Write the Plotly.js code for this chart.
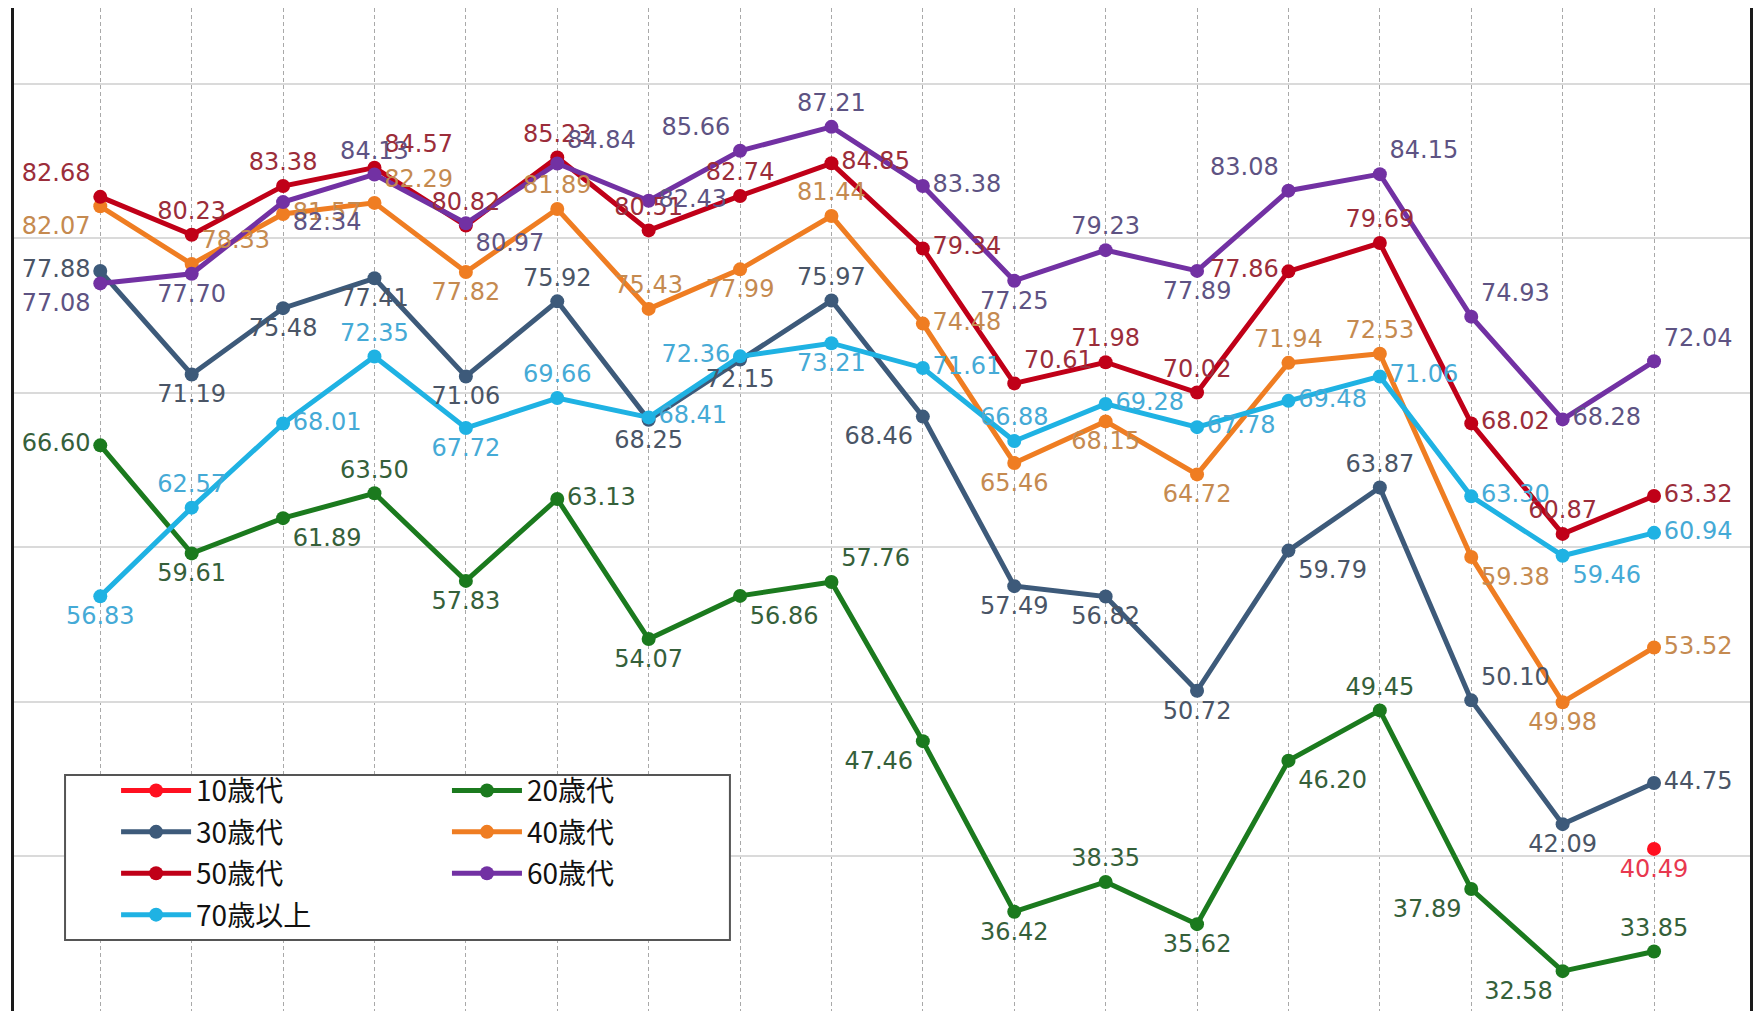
<!DOCTYPE html>
<html>
<head>
<meta charset="utf-8">
<script src="https://cdn.plot.ly/plotly-3.0.1.min.js"></script>
<style>
  html, body { margin: 0; padding: 0; background: #ffffff; }
  #chart { width: 1753px; height: 1011px; }
</style>
</head>
<body>
<div id="chart"></div>
<script>
// ---- data ----
const periods = [0, 1, 2, 3, 4, 5, 6, 7, 8, 9, 10, 11, 12, 13, 14, 15, 16, 17];
const seriesNames = ['10歳代', '20歳代', '30歳代', '40歳代', '50歳代', '60歳代', '70歳以上'];

const age10 = [null, null, null, null, null, null, null, null, null, null, null, null, null, null, null, null, null, 40.49];
const age20 = [66.60, 59.61, 61.89, 63.50, 57.83, 63.13, 54.07, 56.86, 57.76, 47.46, 36.42, 38.35, 35.62, 46.20, 49.45, 37.89, 32.58, 33.85];
const age30 = [77.88, 71.19, 75.48, 77.41, 71.06, 75.92, 68.25, 72.15, 75.97, 68.46, 57.49, 56.82, 50.72, 59.79, 63.87, 50.10, 42.09, 44.75];
const age40 = [82.07, 78.33, 81.57, 82.29, 77.82, 81.89, 75.43, 77.99, 81.44, 74.48, 65.46, 68.15, 64.72, 71.94, 72.53, 59.38, 49.98, 53.52];
const age50 = [82.68, 80.23, 83.38, 84.57, 80.82, 85.23, 80.51, 82.74, 84.85, 79.34, 70.61, 71.98, 70.02, 77.86, 79.69, 68.02, 60.87, 63.32];
const age60 = [77.08, 77.70, 82.34, 84.13, 80.97, 84.84, 82.43, 85.66, 87.21, 83.38, 77.25, 79.23, 77.89, 83.08, 84.15, 74.93, 68.28, 72.04];
const age70 = [56.83, 62.57, 68.01, 72.35, 67.72, 69.66, 68.41, 72.36, 73.21, 71.61, 66.88, 69.28, 67.78, 69.48, 71.06, 63.30, 59.46, 60.94];

// ---- label placement (style, kept apart from the data) ----
const P = {tc: 'top center', bc: 'bottom center', ml: 'middle left', mr: 'middle right',
           tl: 'top left', tr: 'top right', bl: 'bottom left', br: 'bottom right'};
const pos10 = ['bc','bc','bc','bc','bc','bc','bc','bc','bc','bc','bc','bc','bc','bc','bc','bc','bc','bc'];
const pos20 = ['ml','bc','br','tc','bc','mr','bc','br','tr','bl','bc','tc','bc','br','tc','bl','bl','tc'];
const pos30 = ['ml','bc','bc','bc','bc','tc','bc','bc','tc','bl','bc','bc','bc','br','tc','tr','bc','mr'];
const pos40 = ['bl','tr','mr','tr','bc','tc','tc','bc','tc','mr','bc','bc','bc','tc','tc','br','bc','mr'];
const pos50 = ['tl','tc','tc','tr','tc','tc','tc','tc','mr','mr','tr','tc','tc','ml','tc','mr','tc','mr'];
const pos60 = ['bl','bc','br','tc','br','tr','mr','tl','tc','mr','bc','tc','bc','tl','tr','tr','mr','tr'];
const pos70 = ['bc','tc','mr','tc','bc','tc','mr','ml','bc','mr','tc','mr','mr','mr','mr','mr','br','mr'];

const lineColors  = ['#ff1020', '#1b7a1e', '#3d5a7a', '#ef7d22', '#c00018', '#7231a3', '#1fb2e3'];
const labelColors = ['#e8384f', '#35603a', '#4a5566', '#c58a50', '#9b2d3a', '#5e5383', '#45aad6'];
const legendOf    = ['legend', 'legend2', 'legend', 'legend2', 'legend', 'legend2', 'legend'];

const values = [age10, age20, age30, age40, age50, age60, age70];
const positions = [pos10, pos20, pos30, pos40, pos50, pos60, pos70];

const traces = [];
values.forEach(function (vals, i) {
  traces.push({
    type: 'scatter', mode: 'lines+markers',
    x: periods, y: vals, name: seriesNames[i],
    legend: legendOf[i], legendgroup: 'g' + i,
    line: {color: lineColors[i], width: 5},
    marker: {color: lineColors[i], size: 14},
    connectgaps: false, hoverinfo: 'skip'
  });
});
values.forEach(function (vals, i) {
  traces.push({
    type: 'scatter', mode: 'markers+text',
    x: periods, y: vals, showlegend: false, hoverinfo: 'skip',
    marker: {size: 14, color: 'rgba(0,0,0,0)'},
    texttemplate: '%{y:.2f}',
    textposition: positions[i].map(function (k) { return P[k]; }),
    textfont: {family: 'DejaVu Sans, Verdana, sans-serif', size: 24, color: labelColors[i]},
    cliponaxis: false
  });
});

const legendCommon = {
  bgcolor: 'rgba(0,0,0,0)', borderwidth: 0,
  font: {family: 'Noto Sans CJK JP, sans-serif', size: 28, color: '#111'},
  orientation: 'v', itemwidth: 70, tracegroupgap: 2,
  xanchor: 'left', yanchor: 'top', y: 0.2445,
  itemclick: false, itemdoubleclick: false
};

const layout = {
  width: 1753, height: 1011,
  margin: {l: 14, r: 3, t: 8, b: 0, pad: 0},
  paper_bgcolor: '#ffffff', plot_bgcolor: '#ffffff',
  showlegend: true,
  xaxis: {
    range: [-0.944, 18.05], tickmode: 'array', tickvals: periods,
    showticklabels: false, ticks: '', showgrid: true, gridcolor: '#a9a9a9', gridwidth: 1,
    griddash: '4px,3px', zeroline: false, showline: false, fixedrange: true
  },
  yaxis: {
    range: [30, 94.9], tick0: 0, dtick: 10, showticklabels: false, ticks: '',
    showgrid: true, gridcolor: '#dadada', gridwidth: 2, zeroline: false,
    showline: true, mirror: true, linecolor: '#1a1a1a', linewidth: 3, fixedrange: true
  },
  legend: Object.assign({}, legendCommon, {x: 0.0588}),
  legend2: Object.assign({}, legendCommon, {x: 0.2494}),
  shapes: [{
    type: 'rect', xref: 'paper', yref: 'paper', layer: 'above',
    x0: 0.0294, x1: 0.4124, y0: 0.0708, y1: 0.2353,
    fillcolor: '#ffffff', line: {color: '#555555', width: 2}
  }]
};

Plotly.newPlot('chart', traces, layout, {displayModeBar: false, staticPlot: true});
</script>
</body>
</html>
